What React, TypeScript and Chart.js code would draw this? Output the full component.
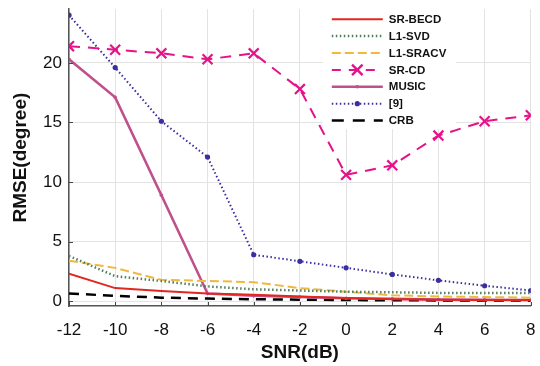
import React, { useEffect, useRef } from 'react';
import { Chart, registerables } from 'chart.js';
Chart.register(...registerables);

const snr = [-12, -10, -8, -6, -4, -2, 0, 2, 4, 6, 8];
const srBecd = [2.3, 1.1, 0.85, 0.65, 0.55, 0.4, 0.28, 0.17, 0.12, 0.1, 0.1];
const l1Svd = [3.8, 2.1, 1.7, 1.25, 1.0, 0.9, 0.8, 0.75, 0.7, 0.7, 0.7];
const l1Sracv = [3.4, 2.8, 1.8, 1.7, 1.6, 1.1, 0.8, 0.5, 0.4, 0.35, 0.3];
const srCd = [21.4, 21.1, 20.8, 20.3, 20.8, 17.8, 10.6, 11.4, 13.9, 15.1, 15.6];
const music = [20.3, 17.1, 8.9, 0.65, 0.45, 0.35, 0.25, 0.2, 0.15, 0.12, 0.1];
const ref9 = [24.0, 19.6, 15.1, 12.1, 3.9, 3.35, 2.8, 2.25, 1.75, 1.3, 0.9];
const crb = [0.65, 0.45, 0.3, 0.22, 0.17, 0.13, 0.1, 0.08, 0.07, 0.06, 0.05];
const xTicks = [-12, -10, -8, -6, -4, -2, 0, 2, 4, 6, 8];
const yTicks = [0, 5, 10, 15, 20];

const FONT = "'Liberation Sans', Arial, Helvetica, sans-serif";

const tickPlugin = {
  id: 'innerTicks',
  afterDraw(chart: any) {
    const ctx = chart.ctx;
    const ca = chart.chartArea;
    const xs = chart.scales.x;
    const ys = chart.scales.y;
    ctx.save();
    ctx.strokeStyle = '#444';
    ctx.lineWidth = 1;
    ctx.beginPath();
    xTicks.forEach((v) => {
      const px = Math.round(xs.getPixelForValue(v)) + 0.5;
      ctx.moveTo(px, ca.bottom);
      ctx.lineTo(px, ca.bottom - 4);
    });
    yTicks.forEach((v) => {
      const py = Math.round(ys.getPixelForValue(v)) + 0.5;
      ctx.moveTo(ca.left, py);
      ctx.lineTo(ca.left + 4, py);
    });
    ctx.stroke();
    ctx.restore();
  },
};

const legendPlugin = {
  id: 'customLegend',
  afterDraw(chart: any) {
    const ctx = chart.ctx;
    const ca = chart.chartArea;
    const left = ca.right - 208;
    const top = ca.top - 1;
    const w = 133;
    const h = 121;
    ctx.save();
    ctx.fillStyle = '#ffffff';
    ctx.fillRect(left, top, w, h);
    const rowH = 16.9;
    chart.data.datasets.forEach((ds: any, i: number) => {
      const y = top + 11 + i * rowH;
      const x1 = left + 9;
      const x2 = left + 60;
      ctx.strokeStyle = ds.borderColor;
      ctx.lineWidth = ds.borderWidth;
      ctx.setLineDash(ds.legendDash || ds.borderDash || []);
      ctx.beginPath();
      ctx.moveTo(x1, y);
      ctx.lineTo(x2, y);
      ctx.stroke();
      ctx.setLineDash([]);
      if (ds.pointRadius > 0) {
        const xm = (x1 + x2) / 2;
        if (ds.pointStyle === 'crossRot') {
          const r = ds.pointRadius;
          ctx.lineWidth = 2.4;
          ctx.beginPath();
          ctx.moveTo(xm - r * 0.75, y - r * 0.75);
          ctx.lineTo(xm + r * 0.75, y + r * 0.75);
          ctx.moveTo(xm - r * 0.75, y + r * 0.75);
          ctx.lineTo(xm + r * 0.75, y - r * 0.75);
          ctx.stroke();
        } else {
          ctx.fillStyle = ds.borderColor;
          ctx.beginPath();
          ctx.arc(xm, y, ds.pointRadius, 0, Math.PI * 2);
          ctx.fill();
        }
      }
      ctx.fillStyle = '#111';
      ctx.font = `bold 11.5px ${FONT}`;
      ctx.textBaseline = 'middle';
      ctx.textAlign = 'left';
      ctx.fillText(ds.label, left + 66, y + 0.5);
    });
    ctx.restore();
  },
};

export default function App() {
  const ref = useRef<HTMLCanvasElement>(null);
  useEffect(() => {
    const mk = (label: string, data: number[], color: string, width: number, dash: number[], extra: any = {}) => ({
      label,
      data: data.map((v, i) => ({ x: snr[i], y: v })),
      borderColor: color,
      backgroundColor: color,
      borderWidth: width,
      borderDash: dash,
      pointRadius: 0,
      pointBorderWidth: 0,
      tension: 0,
      fill: false,
      ...extra,
    });
    const chart = new Chart(ref.current!, {
      type: 'line',
      data: {
        datasets: [
          mk('SR-BECD', srBecd, '#e0281e', 2, []),
          mk('L1-SVD', l1Svd, '#4f7d5c', 2.5, [1.5, 2.5]),
          mk('L1-SRACV', l1Sracv, '#f2b83e', 2, [9, 4]),
          mk('SR-CD', srCd, '#e6128a', 2, [11, 8], { pointStyle: 'crossRot', pointRadius: 7, pointBorderWidth: 2.2, legendDash: [9, 8] }),
          mk('MUSIC', music, '#c0508c', 2.5, [], { pointStyle: 'circle', pointRadius: 1.8 }),
          mk('[9]', ref9, '#3a2ea0', 2, [1.5, 2.5], { pointStyle: 'circle', pointRadius: 2.6 }),
          mk('CRB', crb, '#000000', 2.5, [10, 7], { legendDash: [12, 9] }),
        ] as any,
      },
      options: {
        animation: false,
        responsive: false,
        layout: { padding: { left: 0, right: 8, top: 5, bottom: 0 } },
        plugins: { legend: { display: false }, tooltip: { enabled: false } },
        scales: {
          x: {
            type: 'linear',
            min: -12,
            max: 8,
            afterFit: (s: any) => { s.height = 60; s.paddingLeft = 0; s.paddingRight = 0; },
            afterBuildTicks: (s: any) => { s.ticks = xTicks.map((v) => ({ value: v })); },
            grid: { color: '#e3e3e3', lineWidth: 1, drawTicks: false },
            border: { color: '#555', width: 1.5 },
            ticks: { color: '#111', font: { family: FONT, size: 17 }, padding: 14, maxRotation: 0 },
            title: { display: true, text: 'SNR(dB)', color: '#111', font: { family: FONT, size: 19, weight: 'bold' }, padding: { top: 0, bottom: 2 } },
          },
          y: {
            type: 'linear',
            min: -0.4,
            max: 24.5,
            afterFit: (s: any) => { s.width = 69; s.paddingTop = 0; s.paddingBottom = 0; },
            afterBuildTicks: (s: any) => { s.ticks = yTicks.map((v) => ({ value: v })); },
            grid: { color: '#e3e3e3', lineWidth: 1, drawTicks: false },
            border: { color: '#555', width: 1.5 },
            ticks: { color: '#111', font: { family: FONT, size: 17 }, padding: 7 },
            title: { display: true, text: 'RMSE(degree)', color: '#111', font: { family: FONT, size: 19, weight: 'bold' }, padding: { top: 9, bottom: 0 } },
          },
        },
      } as any,
      plugins: [tickPlugin, legendPlugin],
    });
    return () => chart.destroy();
  }, []);
  return (
    <div style={{ position: 'fixed', left: 0, top: 0, width: 540, height: 366, background: '#fff' }}>
      <canvas ref={ref} width={540} height={366} style={{ width: 540, height: 366 }} />
    </div>
  );
}
